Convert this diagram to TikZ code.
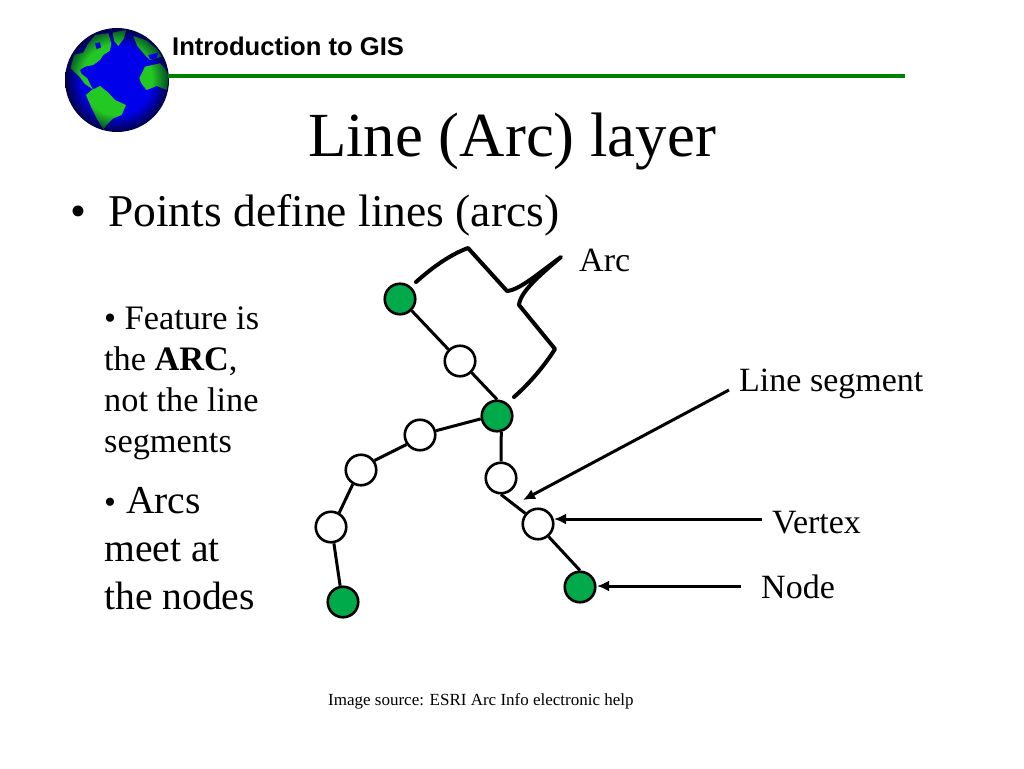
\documentclass[tikz,border=0pt]{standalone}
\usepackage{fontspec}
\setmainfont{Liberation Serif}
\newfontfamily\headfont{Liberation Sans}
\usetikzlibrary{arrows.meta}
\definecolor{nodegreen}{RGB}{0,170,75}
\definecolor{rulegreen}{RGB}{0,128,0}
\definecolor{ocean}{RGB}{0,0,235}
\definecolor{oceanedge}{RGB}{0,0,70}
\definecolor{land}{RGB}{35,200,35}
\definecolor{landedge}{RGB}{0,70,40}
\pgfdeclareradialshading{oceanball}{\pgfpoint{0bp}{0bp}}{color(0bp)=(ocean); color(17bp)=(ocean); color(25bp)=(oceanedge); color(50bp)=(oceanedge)}
\pgfdeclareradialshading{landball}{\pgfpoint{0bp}{0bp}}{color(0bp)=(land); color(17bp)=(land); color(25bp)=(landedge); color(50bp)=(landedge)}
\tikzset{
  vtx/.style={circle,draw=black,line width=2.6pt,fill=white,minimum size=30.5pt,inner sep=0pt},
  endnode/.style={vtx,fill=nodegreen},
  seg/.style={line width=3pt,black},
  pointer/.style={line width=3pt,black,-{Latex[length=12pt,width=11pt]}},
  bracket/.style={line width=4pt,black,line join=round,line cap=round},
  label/.style={inner sep=0pt,anchor=base west,font=\fontsize{34}{34}\selectfont},
  para/.style={inner sep=0pt,anchor=north west,align=left}
}
\begin{document}
\begin{tikzpicture}[x=1pt,y=-1pt]
\useasboundingbox (0,0) rectangle (1024,768);
\fill[white] (0,0) rectangle (1024,768);
% globe
\coordinate (gc) at (117,80);
\shade[shading=oceanball] (gc) circle[radius=52];
\begin{scope}[shift={(50,10)},x=0.3333pt,y=-0.3333pt]
\begin{scope}
\clip
 (62,175) -- (72,135) -- (100,128) -- (112,105) -- (135,75) -- (175,70) -- (184,100) -- (180,122) -- (160,135) -- (150,150) -- (130,165) -- (105,170) -- (90,180) -- (95,192) -- (112,205) -- (128,238) -- (105,222) -- (88,200) -- cycle
 (188,68) -- (228,60) -- (222,85) -- (205,108) -- (192,92) -- cycle
 (250,78) -- (290,92) -- (322,118) -- (335,140) -- (300,150) -- (285,135) -- (262,108) -- cycle
 (108,255) -- (125,240) -- (150,228) -- (175,248) -- (195,270) -- (228,285) -- (215,315) -- (190,325) -- (170,345) -- (160,358) -- (140,325) -- (125,295) -- cycle
 (268,205) -- (285,170) -- (330,160) -- (345,175) -- (358,200) -- (350,240) -- (320,228) -- (290,240) -- (275,222) -- cycle;
\shade[shading=landball] (200,208) circle[radius=156];
\end{scope}
\fill[ocean] (135,100) -- (150,97) -- (153,112) -- (140,118) -- cycle;
\fill[ocean] (295,135) -- (325,128) -- (320,145) -- (300,148) -- cycle;
\end{scope}
% header
\node[inner sep=0pt,anchor=base west,font=\headfont\bfseries\fontsize{25.6}{25.6}\selectfont] (course) at (172,56) {Introduction to GIS};
\coordinate (ruleL) at (168,76);
\coordinate (ruleR) at (905,76);
\draw[line width=4pt,rulegreen] (ruleL) -- (ruleR);
\node[inner sep=0pt,anchor=base,font=\fontsize{62.8}{64}\selectfont] (title) at (512,156) {Line (Arc) layer};
\node[inner sep=0pt,anchor=base west,font=\fontsize{45.5}{46}\selectfont] (bullet) at (70,226) {•};
\node[inner sep=0pt,anchor=base west,font=\fontsize{45.5}{46}\selectfont] (head) at (108,226) {Points define lines (arcs)};
% left text
\node[para,font=\fontsize{34.3}{41}\selectfont] (feature) at (104,307) {• Feature is\\the \textbf{ARC},\\not the line\\segments};
\node[para,font=\fontsize{39.6}{48}\selectfont] (meet) at (104,487) {{\fontsize{34}{34}\selectfont•} Arcs\\meet at\\the nodes};
% arc network
\node[endnode] (n1) at (400,299) {};
\node[vtx] (v1) at (460,361) {};
\node[endnode] (n2) at (497,416) {};
\node[vtx] (v2) at (420,435) {};
\node[vtx] (v3) at (361,470) {};
\node[vtx] (v4) at (331,527) {};
\node[endnode] (n3) at (343,602) {};
\node[vtx] (v5) at (501,478) {};
\node[vtx] (v6) at (538,524) {};
\node[endnode] (n4) at (580,587) {};
\draw[seg] (n1.-45)--(v1.135);
\draw[seg] (v1.-45)--(n2.90);
\draw[seg] (n2.190)--(v2.15);
\draw[seg] (v2.215)--(v3.35);
\draw[seg] (v3.-120)--(v4.60);
\draw[seg] (v4.-80)--(n3.100);
\draw[seg] (n2.-75)--(v5.90);
\draw[seg] (v5.-90)--(v6.140);
\draw[seg] (v6.-50)--(n4.90);
% bracket
\coordinate (b1) at (416,282);
\coordinate (b2) at (468,248);
\coordinate (b3) at (507,291);
\coordinate (tip) at (561,257);
\coordinate (b4) at (519,305);
\coordinate (b5) at (555,349);
\coordinate (b6) at (514,397);
\draw[bracket] (b1) .. controls (435,265) and (452,254) .. (b2) -- (b3)
  .. controls (520,290) and (540,272) .. (tip)
  .. controls (540,275) and (520,292) .. (b4) -- (b5)
  .. controls (545,365) and (530,383) .. (b6);
% labels
\node[label] (arc) at (579,271) {Arc};
\node[label] (seglabel) at (739,391) {Line segment};
\node[label] (vertex) at (772,533) {Vertex};
\node[label] (nodelabel) at (761,598) {Node};
\coordinate (segstart) at (729,390);
\coordinate (segend) at (523,500);
\coordinate (vstart) at (762,519);
\coordinate (vend) at (554,519);
\coordinate (nstart) at (741,586);
\coordinate (nend) at (597,586);
\draw[pointer] (segstart) -- (segend);
\draw[pointer] (vstart) -- (vend);
\draw[pointer] (nstart) -- (nend);
\node[inner sep=0pt,anchor=base west,font=\fontsize{17}{17}\selectfont] (source) at (328,705) {Image source: ESRI Arc Info electronic help};
\end{tikzpicture}
\end{document}
